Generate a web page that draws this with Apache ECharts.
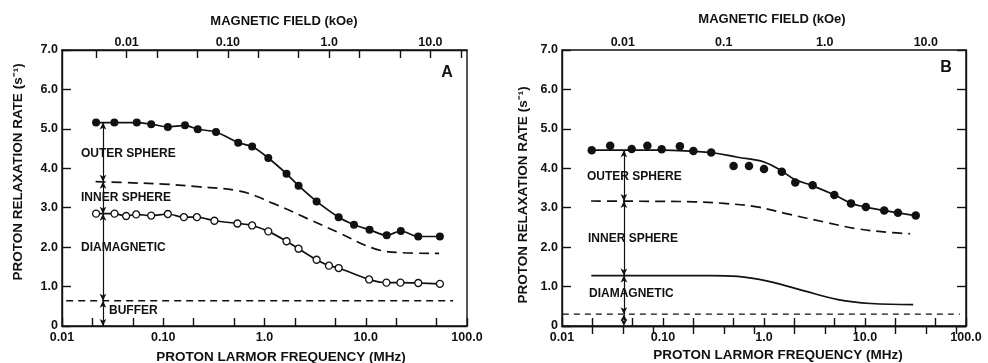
<!DOCTYPE html>
<html>
<head>
<meta charset="utf-8">
<script src="https://cdn.jsdelivr.net/npm/echarts@6/dist/echarts.min.js"></script>
<style>
  html, body { margin: 0; padding: 0; background: #fff; }
  #chart { width: 988px; height: 363px; }
</style>
</head>
<body>
<div id="chart"></div>
<script>
// ---- panel A data (MHz, s^-1) ----
const freqFilledA = [0.0217, 0.0329, 0.0548, 0.076, 0.111, 0.164, 0.219, 0.332, 0.55, 0.755, 1.09, 1.65, 2.17, 3.27, 5.4, 7.66, 10.9, 16.1, 22.2, 33, 54];
const rateFilledA = [5.16, 5.16, 5.16, 5.12, 5.05, 5.09, 4.99, 4.92, 4.65, 4.55, 4.26, 3.86, 3.56, 3.16, 2.76, 2.57, 2.44, 2.30, 2.41, 2.27, 2.27];
const freqOpenA = [0.0217, 0.033, 0.043, 0.054, 0.076, 0.111, 0.16, 0.215, 0.32, 0.54, 0.755, 1.09, 1.65, 2.17, 3.27, 4.33, 5.4, 10.8, 16, 22, 33, 54];
const rateOpenA = [2.85, 2.85, 2.79, 2.83, 2.80, 2.84, 2.76, 2.76, 2.67, 2.60, 2.55, 2.40, 2.15, 1.96, 1.68, 1.53, 1.47, 1.18, 1.10, 1.10, 1.09, 1.07];
const freqInnerA = [0.0215, 0.05, 0.1, 0.2, 0.57, 1.22, 2.62, 5.6, 11.9, 22, 53];
const rateInnerA = [3.66, 3.63, 3.60, 3.54, 3.42, 3.11, 2.73, 2.35, 1.97, 1.86, 1.84];
const freqBufferA = [0.011, 73];
const rateBufferA = [0.64, 0.64];
const arrowFreqA = 0.0254;
const arrowLevelsA = [5.16, 3.66, 2.85, 0.64, 0];

// ---- panel B data ----
const freqDotsB = [0.0197, 0.030, 0.049, 0.070, 0.097, 0.147, 0.20, 0.30, 0.50, 0.71, 1.0, 1.5, 2.04, 3.03, 4.97, 7.27, 10.2, 15.5, 21.2, 31.8];
const rateDotsB = [4.46, 4.57, 4.49, 4.57, 4.48, 4.56, 4.44, 4.40, 4.06, 4.06, 3.98, 3.91, 3.64, 3.57, 3.32, 3.11, 3.02, 2.93, 2.87, 2.80];
const freqOuterB = [0.0195, 0.1, 0.2, 0.3, 0.55, 1.0, 1.5, 2.0, 3.0, 5.0, 7.3, 10, 15.5, 21, 32];
const rateOuterB = [4.46, 4.46, 4.43, 4.40, 4.28, 4.16, 3.93, 3.72, 3.56, 3.32, 3.11, 3.02, 2.93, 2.87, 2.80];
const freqInnerB = [0.0194, 0.1, 0.2, 0.4, 0.85, 1.8, 3.9, 8.2, 17.8, 28];
const rateInnerB = [3.17, 3.16, 3.15, 3.11, 3.02, 2.83, 2.64, 2.47, 2.37, 2.34];
const freqDiaB = [0.0195, 0.1, 0.3, 0.55, 1.17, 2.5, 5.4, 11.4, 30];
const rateDiaB = [1.28, 1.28, 1.28, 1.26, 1.12, 0.89, 0.67, 0.57, 0.54];
const freqBaseB = [0.0102, 87];
const rateBaseB = [0.30, 0.30];
const arrowFreqB = 0.041;
const arrowLevelsB = [4.46, 3.17, 1.28, 0.30, 0];

// ---- ticks ----
const freqTicks = [0.01, 0.02, 0.05, 0.1, 0.2, 0.5, 1, 2, 5, 10, 20, 50, 100];
const freqLabels = [0.01, 0.1, 1, 10, 100];
const freqLabelText = ['0.01', '0.10', '1.0', '10.0', '100.0'];
const fieldTicks = [0.005, 0.01, 0.02, 0.05, 0.1, 0.2, 0.5, 1, 2, 5, 10, 20];
const fieldLabels = [0.01, 0.1, 1, 10];
const fieldLabelTextA = ['0.01', '0.10', '1.0', '10.0'];
const fieldLabelTextB = ['0.01', '0.1', '1.0', '10.0'];

const ink = '#111';
const FONT = '"Liberation Sans", Arial, sans-serif';

function pts(xs, ys) {
  return xs.map((x, i) => [x, ys[i]]);
}
function decadeLabel(texts, firstPow) {
  return function (v) {
    const k = Math.round(Math.log10(v)) - firstPow;
    return texts[k] || '';
  };
}
function arrows(x, levels, dottedLast) {
  const out = [];
  for (let i = 0; i < levels.length - 1; i++) {
    const seg = [{ coord: [x, levels[i]] }, { coord: [x, levels[i + 1]] }];
    if (dottedLast && i === levels.length - 2) {
      seg[0].lineStyle = { type: [2, 2] };
    }
    out.push(seg);
  }
  return out;
}

const tickFont = { color: ink, fontSize: 12.5, fontFamily: FONT, fontWeight: 'bold' };

function bottomAxis(gi) {
  return {
    gridIndex: gi, type: 'log', logBase: 10, min: 0.01, max: 100, position: 'bottom',
    axisLine: { show: true, lineStyle: { color: ink, width: 1.4 } },
    axisTick: { show: true, inside: true, length: 8, customValues: freqTicks, lineStyle: { color: ink, width: 1.4 } },
    axisLabel: Object.assign({ customValues: freqLabels, margin: 5, formatter: decadeLabel(freqLabelText, -2) }, tickFont),
    splitLine: { show: false }, minorTick: { show: false }
  };
}
function topAxis(gi, ratio, texts) {
  return {
    gridIndex: gi, type: 'log', logBase: 10, min: 0.01 / ratio, max: 100 / ratio, position: 'top',
    axisLine: { show: true, lineStyle: { color: ink, width: 1.4 } },
    axisTick: { show: true, inside: true, length: 8, customValues: fieldTicks, lineStyle: { color: ink, width: 1.4 } },
    axisLabel: Object.assign({ customValues: fieldLabels, margin: 1, formatter: decadeLabel(texts, -2) }, tickFont),
    splitLine: { show: false }
  };
}
function leftAxis(gi) {
  return {
    gridIndex: gi, type: 'value', min: 0, max: 7, interval: 1, position: 'left',
    axisLine: { show: true, lineStyle: { color: ink, width: 1.4 } },
    axisTick: { show: true, inside: true, length: 9, lineStyle: { color: ink, width: 1.4 } },
    axisLabel: Object.assign({ margin: 4, formatter: v => (v === 0 ? '0' : v.toFixed(1)) }, tickFont),
    splitLine: { show: false }
  };
}

const lineBase = { type: 'line', showSymbol: false, symbol: 'none', silent: true };

function txt(x, y, text, size, extra) {
  return Object.assign({
    type: 'text', x: x, y: y,
    style: { text: text, font: 'bold ' + size + 'px ' + FONT, fill: ink, textVerticalAlign: 'middle', textAlign: extra && extra.align || 'left' }
  }, extra && extra.rotation ? { rotation: extra.rotation } : {});
}

const chart = echarts.init(document.getElementById('chart'), null, { renderer: 'canvas' });
chart.setOption({
  animation: false,
  backgroundColor: '#fff',
  grid: [
    { left: 62, top: 50, width: 405, height: 276, show: true, borderColor: ink, borderWidth: 1.4, backgroundColor: 'transparent' },
    { left: 562, top: 50, width: 404, height: 276, show: true, borderColor: ink, borderWidth: 1.4, backgroundColor: 'transparent' }
  ],
  xAxis: [
    bottomAxis(0),
    topAxis(0, 4.35, fieldLabelTextA),
    bottomAxis(1),
    topAxis(1, 4.0, fieldLabelTextB)
  ],
  yAxis: [
    leftAxis(0),
    leftAxis(1),
    Object.assign(leftAxis(1), { position: 'right', axisLabel: { show: false } })
  ],
  series: [
    // panel A
    Object.assign({}, lineBase, {
      xAxisIndex: 0, yAxisIndex: 0, data: pts(freqInnerA, rateInnerA), smooth: 0.4,
      lineStyle: { color: ink, width: 1.7, type: [10, 6] },
      markLine: {
        silent: true, symbol: ['arrow', 'arrow'], symbolSize: [5, 7], label: { show: false },
        lineStyle: { color: ink, width: 1.2, type: 'solid' },
        data: arrows(arrowFreqA, arrowLevelsA, false)
      }
    }),
    Object.assign({}, lineBase, {
      xAxisIndex: 0, yAxisIndex: 0, data: pts(freqBufferA, rateBufferA),
      lineStyle: { color: ink, width: 1.4, type: [7, 5] }
    }),
    {
      type: 'line', xAxisIndex: 0, yAxisIndex: 0, data: pts(freqFilledA, rateFilledA), smooth: 0.3,
      symbol: 'circle', symbolSize: 8, itemStyle: { color: ink, opacity: 1 },
      lineStyle: { color: ink, width: 1.7 }
    },
    {
      type: 'line', xAxisIndex: 0, yAxisIndex: 0, data: pts(freqOpenA, rateOpenA), smooth: 0.3,
      symbol: 'circle', symbolSize: 7, itemStyle: { color: '#fff', borderColor: ink, borderWidth: 1.3, opacity: 1 },
      lineStyle: { color: ink, width: 1.7 }
    },
    // panel B
    Object.assign({}, lineBase, {
      xAxisIndex: 2, yAxisIndex: 1, data: pts(freqOuterB, rateOuterB), smooth: 0.4,
      lineStyle: { color: ink, width: 1.7 }
    }),
    Object.assign({}, lineBase, {
      xAxisIndex: 2, yAxisIndex: 1, data: pts(freqInnerB, rateInnerB), smooth: 0.4,
      lineStyle: { color: ink, width: 1.7, type: [10, 6] }
    }),
    Object.assign({}, lineBase, {
      xAxisIndex: 2, yAxisIndex: 1, data: pts(freqDiaB, rateDiaB), smooth: 0.4,
      lineStyle: { color: ink, width: 1.7 },
      markLine: {
        silent: true, symbol: ['arrow', 'arrow'], symbolSize: [5, 7], label: { show: false },
        lineStyle: { color: ink, width: 1.2, type: 'solid' },
        data: arrows(arrowFreqB, arrowLevelsB, true)
      }
    }),
    Object.assign({}, lineBase, {
      xAxisIndex: 2, yAxisIndex: 1, data: pts(freqBaseB, rateBaseB),
      lineStyle: { color: ink, width: 1.4, type: [6, 5] }
    }),
    {
      type: 'scatter', xAxisIndex: 2, yAxisIndex: 1, data: pts(freqDotsB, rateDotsB),
      symbol: 'circle', symbolSize: 8.5, itemStyle: { color: ink, opacity: 1 }, silent: true
    }
  ],
  graphic: [
    // axis titles
    txt(284, 21, 'MAGNETIC FIELD (kOe)', 13, { align: 'center' }),
    txt(772, 19, 'MAGNETIC FIELD (kOe)', 13, { align: 'center' }),
    txt(281, 357, 'PROTON LARMOR FREQUENCY (MHz)', 13.5, { align: 'center' }),
    txt(778, 355, 'PROTON LARMOR FREQUENCY (MHz)', 13.5, { align: 'center' }),
    txt(18, 172, 'PROTON RELAXATION RATE (s⁻¹)', 13.5, { align: 'center', rotation: Math.PI / 2 }),
    txt(523, 195, 'PROTON RELAXATION RATE (s⁻¹)', 13.5, { align: 'center', rotation: Math.PI / 2 }),
    // panel A annotations
    txt(81, 154, 'OUTER SPHERE', 12),
    txt(81, 198, 'INNER SPHERE', 12),
    txt(81, 248, 'DIAMAGNETIC', 12),
    txt(109, 311, 'BUFFER', 12),
    txt(447, 73, 'A', 16, { align: 'center' }),
    // panel B annotations
    txt(587, 177, 'OUTER SPHERE', 12),
    txt(588, 239, 'INNER SPHERE', 12),
    txt(589, 294, 'DIAMAGNETIC', 12),
    txt(946, 68, 'B', 16, { align: 'center' })
  ]
});
window.addEventListener('resize', function () {
  chart.resize();
});
</script>
</body>
</html>
